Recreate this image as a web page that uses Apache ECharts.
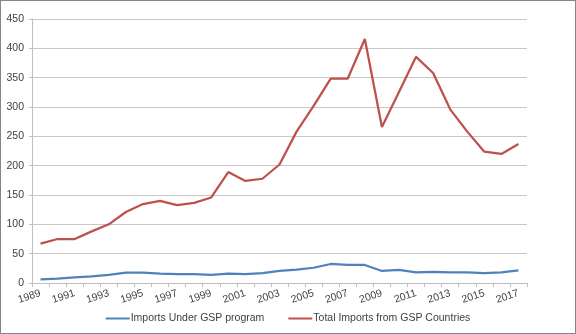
<!DOCTYPE html>
<html>
<head>
<meta charset="utf-8">
<script src="https://cdn.jsdelivr.net/npm/echarts@6/dist/echarts.min.js"></script>
<style>
  html, body { margin: 0; padding: 0; background: #fff; }
  #chart { width: 576px; height: 334px; box-sizing: border-box; border: 1px solid #868686; }
</style>
</head>
<body>
<div id="chart"></div>
<script>
// Years on the category axis
const years = [
  '1989','1990','1991','1992','1993','1994','1995','1996','1997','1998',
  '1999','2000','2001','2002','2003','2004','2005','2006','2007','2008',
  '2009','2010','2011','2012','2013','2014','2015','2016','2017'
];

// Imports under the GSP program
const gspImports = [
  6, 7.4, 9.7, 11.4, 13.8, 17.7, 17.7, 16, 15, 15,
  13.8, 16, 15, 17, 20.5, 22.8, 26, 32.4, 30.7, 30.7,
  20.5, 22.2, 18.2, 18.8, 18.2, 18.2, 17, 18, 21.6
];

// Total imports from GSP countries
const totalImports = [
  67, 75, 75, 88, 100, 121, 134.5, 140, 132.7, 136.7,
  145.8, 189, 174, 177.7, 202, 258, 302, 348.5, 348.5, 416,
  266, 325.7, 385.5, 358, 296, 258, 223.8, 220, 237
];

// Value-axis range and step
const yMin = 0, yMax = 450, yStep = 50;

const seriesNames = ['Imports Under GSP program', 'Total Imports from GSP Countries'];

const font = 'Liberation Sans';
const chart = echarts.init(document.getElementById('chart'), null, { renderer: 'canvas' });

chart.setOption({
  animation: false,
  textStyle: { fontFamily: font },
  grid: { left: 31, right: 48, top: 18, bottom: 50, containLabel: false },
  legend: {
    bottom: 4,
    left: 'center',
    itemWidth: 24,
    itemHeight: 2,
    itemGap: 24,
    icon: 'rect',
    textStyle: { fontFamily: font, fontSize: 10.5, color: '#404040', padding: [0, 0, 0, -4] },
    data: seriesNames
  },
  xAxis: {
    type: 'category',
    data: years,
    boundaryGap: true,
    axisLine: { show: true, lineStyle: { color: '#bfbfbf', width: 1 } },
    axisTick: { show: true, interval: 0, length: 4, lineStyle: { color: '#bfbfbf' } },
    axisLabel: {
      interval: 1,
      rotate: 18,
      margin: 10,
      fontFamily: font,
      fontSize: 10.5,
      color: '#404040'
    },
    splitLine: { show: false }
  },
  yAxis: {
    type: 'value',
    min: yMin,
    max: yMax,
    interval: yStep,
    axisLine: { show: true, lineStyle: { color: '#bfbfbf', width: 1 } },
    axisTick: { show: true, length: 3, lineStyle: { color: '#bfbfbf' } },
    axisLabel: { margin: 8, fontFamily: font, fontSize: 10.5, color: '#404040' },
    splitLine: { show: true, lineStyle: { color: '#c8c8c8', width: 1 } }
  },
  series: [
    {
      name: seriesNames[0],
      type: 'line',
      data: gspImports,
      symbol: 'none',
      lineStyle: { color: '#4f81bd', width: 2.25 },
      itemStyle: { color: '#4f81bd' }
    },
    {
      name: seriesNames[1],
      type: 'line',
      data: totalImports,
      symbol: 'none',
      lineStyle: { color: '#c0504d', width: 2.25 },
      itemStyle: { color: '#c0504d' }
    }
  ]
});
</script>
</body>
</html>
